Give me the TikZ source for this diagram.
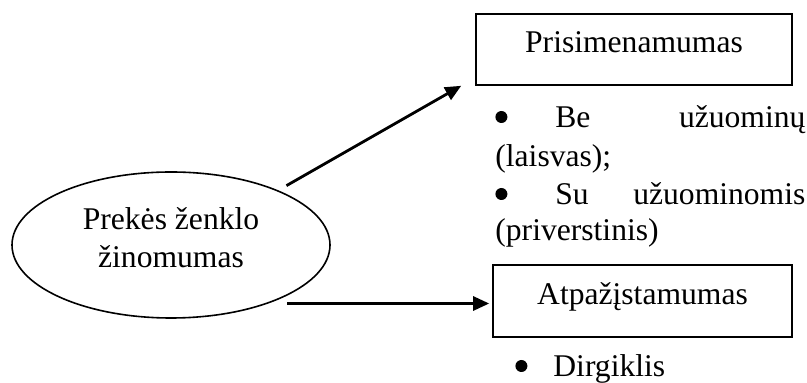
\documentclass[tikz,border=0pt]{standalone}
\usepackage{fontspec}
\setmainfont{Liberation Serif}
\usetikzlibrary{shapes.geometric,arrows.meta}

\newcommand\bul{\tikz[baseline=-5.5pt]\fill (0,0) circle (3pt);}

\begin{document}
\begin{tikzpicture}[x=0.5pt,y=-0.5pt,
  every node/.style={font=\fontsize{15.8pt}{19pt}\selectfont},
  box/.style={draw,line width=.8pt,inner sep=0pt,text height=10pt,text depth=6.5pt},
  arr/.style={-{Triangle[length=8pt,width=7pt]},line width=1.4pt},
  txt/.style={anchor=base west,inner sep=0pt}]
\useasboundingbox (0,0) rectangle (807,383);
\node[draw,ellipse,line width=.8pt,minimum width=159pt,minimum height=73pt,inner sep=0pt] (ell) at (171,245) {};
\node[anchor=base,inner sep=0pt] (ell1) at (171,230) {Prekės ženklo};
\node[anchor=base,inner sep=0pt] (ell2) at (171,268) {žinomumas};
\node[box,minimum width=158pt,minimum height=35.5pt] (prs) at (634,49.5) {Prisimenamumas};
\node[box,minimum width=149.5pt,minimum height=36pt] (atp) at (642.5,301) {Atpažįstamumas};
% bullet lines
\node[txt,text width=155pt] (b1) at (495,128) {\makebox[30pt][l]{\bul}Be\hfill užuominų};
\node[txt] (b1b) at (495,167) {(laisvas);};
\node[txt,text width=155pt] (b2) at (495,205) {\makebox[30pt][l]{\bul}Su\hfill užuominomis};
\node[txt] (b2b) at (495,241) {(priverstinis)};
\node[txt] (b3) at (515,377) {\makebox[19pt][l]{\bul}Dirgiklis};
% arrows
\draw[arr,shorten <=4.7pt] (ell.27) -- ([xshift=-7pt]prs.south west);
\draw[arr,shorten <=9.5pt,shorten >=1.5pt] (ell.-31) -- (ell.-31 -| atp.west);
\end{tikzpicture}
\end{document}
